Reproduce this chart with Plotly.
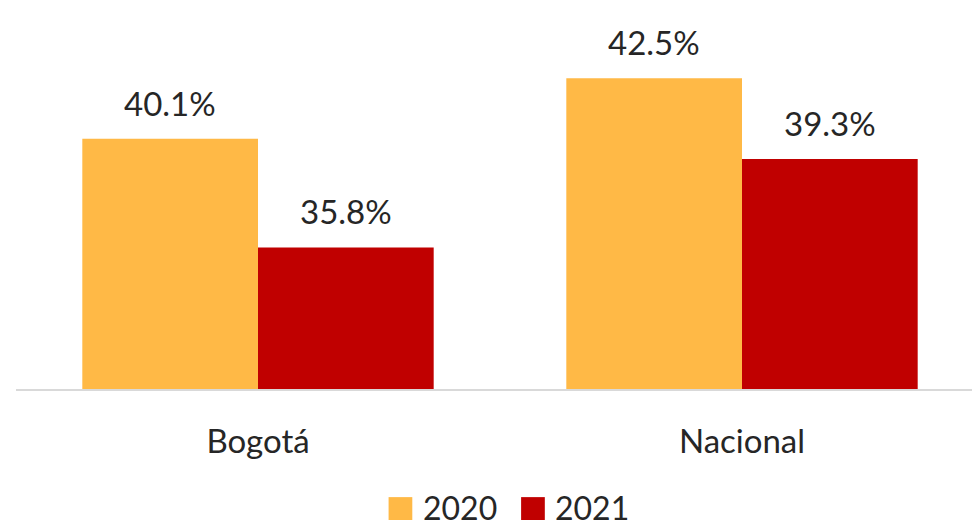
import plotly.graph_objects as go

categories = ["Bogotá", "Nacional"]
series_names = ["2020", "2021"]
values_2020 = [40.1, 42.5]
values_2021 = [35.8, 39.3]
colors = ["#FFB946", "#C00000"]

series_values = [values_2020, values_2021]
font_name = "Lato, 'Open Sans', sans-serif"
text_color = "#262626"

fig = go.Figure()
for name, vals, col in zip(series_names, series_values, colors):
    fig.add_trace(go.Bar(x=categories, y=vals, name=name,
                         marker=dict(color=col, line=dict(width=0)),
                         showlegend=False))

# value labels above the bars
half = 0.5 * (1 - 0.274) / 2  # half of one bar width in category units
for i, vals in enumerate(series_values):
    shift = -half if i == 0 else half
    for j, v in enumerate(vals):
        fig.add_annotation(x=j + shift, y=v, xref="x", yref="y",
                           text=f"{v:.1f}%", showarrow=False,
                           yanchor="bottom", yshift=14,
                           font=dict(size=33, color=text_color, family=font_name))

# hand made legend (big squares like the original)
legend_x = [0.3849, 0.5218]
for name, col, lx in zip(series_names, colors, legend_x):
    fig.add_shape(type="rect", xref="paper", yref="paper",
                  x0=lx, x1=lx + 0.0245, y0=-0.355, y1=-0.293,
                  fillcolor=col, line=dict(width=0))
    fig.add_annotation(x=lx + 0.0342, y=-0.322, xref="paper", yref="paper",
                       text=name, showarrow=False, xanchor="left", yanchor="middle",
                       borderpad=0,
                       font=dict(size=32, color=text_color, family=font_name))

# page body adds ~8px, so margins are shifted by that much
fig.update_layout(
    width=980, height=524,
    margin=dict(l=8, r=4, t=12, b=143),
    barmode="group", bargap=0.274, bargroupgap=0,
    plot_bgcolor="white", paper_bgcolor="white",
    font=dict(family=font_name, color=text_color),
    xaxis=dict(showline=True, linecolor="#D9D9D9", linewidth=2,
               ticks="outside", ticklen=22, tickcolor="rgba(0,0,0,0)",
               tickfont=dict(size=33, color=text_color), range=[-0.5, 1.5]),
    yaxis=dict(visible=False, range=[30.2, 44.8], showgrid=False, zeroline=False),
)

fig.write_html("out.html")
